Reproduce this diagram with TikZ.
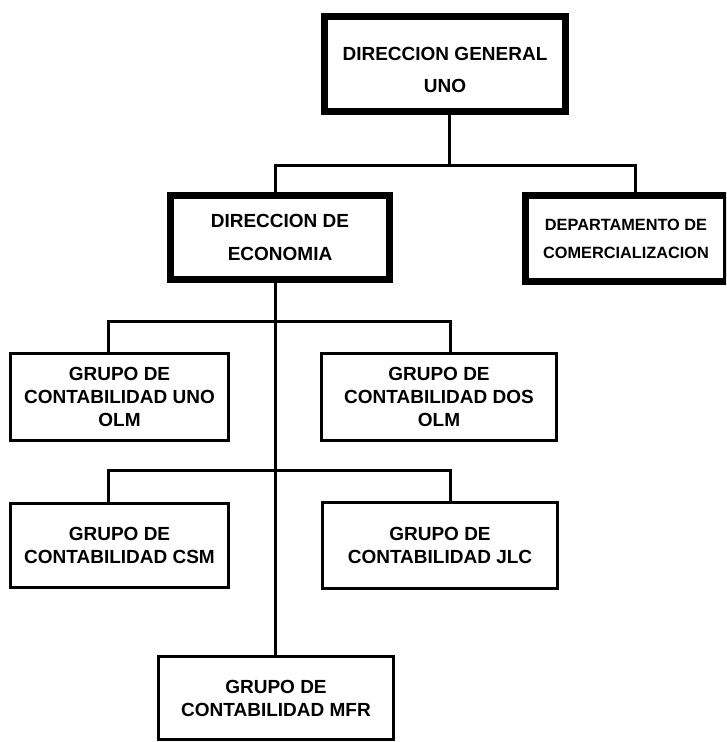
\documentclass[tikz,border=0pt]{standalone}
\usepackage{fontspec}
\setmainfont{Liberation Sans}

\begin{document}
\begin{tikzpicture}[x=1pt, y=-1pt,
    heavybox/.style={draw, line width=7pt, outer sep=0pt, align=center, fill=white,
        font=\fontsize{19}{32}\selectfont\bfseries},
    unitbox/.style={draw, line width=3pt, outer sep=0pt, align=center, fill=white,
        font=\fontsize{19}{23}\selectfont\bfseries},
    link/.style={line width=3pt}]
    \useasboundingbox (0,0) rectangle (726,742);
    \clip (0,0) rectangle (726,742);

    % Direcciones
    \node[heavybox, minimum width=241pt, minimum height=95pt, text height=57pt] (general) at (445,64)
        {DIRECCION GENERAL\\UNO};
    \node[heavybox, minimum width=219pt, minimum height=84pt,
        font=\fontsize{19}{33}\selectfont\bfseries] (economia) at (280,237.5)
        {DIRECCION DE\\ECONOMIA};
    \node[heavybox, minimum width=201pt, minimum height=86pt,
        font=\fontsize{16.3}{28}\selectfont\bfseries] (comercial) at (626,238.5)
        {DEPARTAMENTO DE\\COMERCIALIZACION};

    % Grupos de contabilidad
    \node[unitbox, minimum width=218pt, minimum height=87pt] (uno) at (119.5,397)
        {GRUPO DE\\CONTABILIDAD UNO\\OLM};
    \node[unitbox, minimum width=235pt, minimum height=87pt] (dos) at (439,397)
        {GRUPO DE\\CONTABILIDAD DOS\\OLM};
    \node[unitbox, minimum width=218pt, minimum height=84pt] (csm) at (119.5,545.5)
        {GRUPO DE\\CONTABILIDAD CSM};
    \node[unitbox, minimum width=235pt, minimum height=86pt] (jlc) at (440,545.5)
        {GRUPO DE\\CONTABILIDAD JLC};
    \node[unitbox, minimum width=235pt, minimum height=83pt] (mfr) at (276,698)
        {GRUPO DE\\CONTABILIDAD MFR};

    % Lineas
    \draw[link] ([xshift=4pt]general.south) -- ++(0,53.5) -| ([xshift=-5pt]economia.north);
    \draw[link] ([xshift=4pt]general.south) -- ++(0,53.5) -| ([xshift=9pt]comercial.north);
    \draw[link] ([xshift=-5pt]economia.south) -- ([xshift=-1pt]mfr.north);
    \draw[link] ([xshift=-11.5pt]uno.north) -- ++(0,-32.5) -| ([xshift=11pt]dos.north);
    \draw[link] ([xshift=-11.5pt]csm.north) -- ++(0,-33.5) -| ([xshift=10pt]jlc.north);
\end{tikzpicture}
\end{document}
